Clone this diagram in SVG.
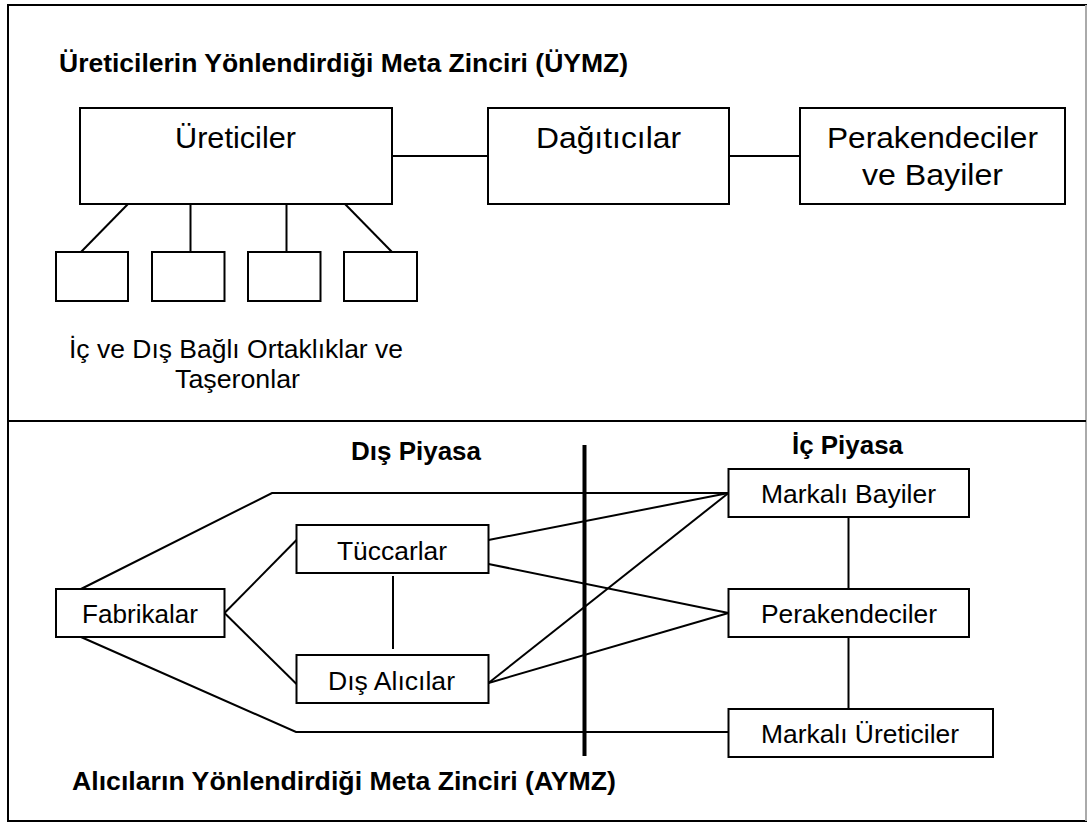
<svg xmlns="http://www.w3.org/2000/svg" width="1088" height="822" viewBox="0 0 1088 822">
<style>
.box{fill:#fff;stroke:#000;stroke-width:2}
.ln{fill:none;stroke:#000;stroke-width:2}
.t{font-family:"Liberation Sans",Arial,sans-serif;fill:#000}
.b{font-weight:bold;font-size:25px}
.big{font-size:29px}
.mid{font-size:25px}
.sm{font-size:25px}
</style>
<rect x="0" y="0" width="1088" height="822" fill="#fff"/>
<g id="frame">
<rect x="8" y="5" width="1078" height="816" fill="none" stroke="#000" stroke-width="2"/>
<line x1="1086" y1="5" x2="1086" y2="821" stroke="#aaa" stroke-width="2"/>
<line x1="8" y1="421" x2="1086" y2="421" stroke="#000" stroke-width="2"/>
</g>
<g id="titles">
<text class="t b" x="59" y="72" textLength="569" lengthAdjust="spacingAndGlyphs">Üreticilerin Yönlendirdiği Meta Zinciri (ÜYMZ)</text>
<text class="t b" x="72" y="790" textLength="544" lengthAdjust="spacingAndGlyphs">Alıcıların Yönlendirdiği Meta Zinciri (AYMZ)</text>
<text class="t b" x="351" y="460" textLength="130" lengthAdjust="spacingAndGlyphs">Dış Piyasa</text>
<text class="t b" x="792" y="454" textLength="111" lengthAdjust="spacingAndGlyphs">İç Piyasa</text>
<text class="t sm" x="69" y="358" textLength="334" lengthAdjust="spacingAndGlyphs">İç ve Dış Bağlı Ortaklıklar ve</text>
<text class="t sm" x="175" y="388" textLength="125" lengthAdjust="spacingAndGlyphs">Taşeronlar</text>
</g>
<g id="connectors">
<line class="ln" x1="392" y1="156" x2="488" y2="156"/>
<line class="ln" x1="729" y1="156" x2="800" y2="156"/>
<line class="ln" x1="128" y1="204" x2="81" y2="252"/>
<line class="ln" x1="190.5" y1="204" x2="190.5" y2="252"/>
<line class="ln" x1="286.5" y1="204" x2="286.5" y2="252"/>
<line class="ln" x1="345" y1="204" x2="392" y2="252"/>
<polyline class="ln" points="81,589 272,493 728,493"/>
<polyline class="ln" points="81,637 296,732 728,732"/>
<line class="ln" x1="224.5" y1="613" x2="296.5" y2="540"/>
<line class="ln" x1="224.5" y1="613" x2="296.5" y2="684"/>
<line class="ln" x1="393" y1="576" x2="393" y2="649"/>
<line class="ln" x1="488.5" y1="540" x2="728.5" y2="493"/>
<line class="ln" x1="488.5" y1="564" x2="728.5" y2="613"/>
<line class="ln" x1="488.5" y1="683" x2="728.5" y2="493"/>
<line class="ln" x1="488.5" y1="683" x2="728.5" y2="613"/>
<line class="ln" x1="848.5" y1="517" x2="848.5" y2="589"/>
<line class="ln" x1="848.5" y1="637" x2="848.5" y2="709"/>
<line x1="584.5" y1="445" x2="584.5" y2="756" stroke="#000" stroke-width="4"/>
</g>
<g id="ureticiler">
<rect class="box" x="80" y="108" width="312" height="96"/>
<text class="t big" x="175" y="148" textLength="121" lengthAdjust="spacingAndGlyphs">Üreticiler</text>
</g>
<g id="dagiticilar">
<rect class="box" x="488" y="108" width="241" height="96"/>
<text class="t big" x="536" y="148" textLength="145" lengthAdjust="spacingAndGlyphs">Dağıtıcılar</text>
</g>
<g id="perakendeciler-bayiler">
<rect class="box" x="800" y="108" width="265" height="96"/>
<text class="t big" x="827" y="148" textLength="211" lengthAdjust="spacingAndGlyphs">Perakendeciler</text>
<text class="t big" x="862" y="185" textLength="141" lengthAdjust="spacingAndGlyphs">ve Bayiler</text>
</g>
<g id="ortak1"><rect class="box" x="56" y="252" width="72" height="49"/></g>
<g id="ortak2"><rect class="box" x="152" y="252" width="72.5" height="49"/></g>
<g id="ortak3"><rect class="box" x="248" y="252" width="72.5" height="49"/></g>
<g id="ortak4"><rect class="box" x="344" y="252" width="73" height="49"/></g>
<g id="fabrikalar">
<rect class="box" x="56" y="589" width="168.5" height="48"/>
<text class="t mid" x="82" y="623" textLength="116" lengthAdjust="spacingAndGlyphs">Fabrikalar</text>
</g>
<g id="tuccarlar">
<rect class="box" x="296.5" y="525" width="192" height="48"/>
<text class="t mid" x="337" y="560" textLength="110" lengthAdjust="spacingAndGlyphs">Tüccarlar</text>
</g>
<g id="dis-alicilar">
<rect class="box" x="296.5" y="655" width="192" height="48"/>
<text class="t mid" x="328" y="690" textLength="127" lengthAdjust="spacingAndGlyphs">Dış Alıcılar</text>
</g>
<g id="markali-bayiler">
<rect class="box" x="728.5" y="469" width="240.5" height="48"/>
<text class="t mid" x="761" y="503" textLength="175" lengthAdjust="spacingAndGlyphs">Markalı Bayiler</text>
</g>
<g id="perakendeciler">
<rect class="box" x="728.5" y="589" width="240.5" height="48"/>
<text class="t mid" x="761" y="623" textLength="176" lengthAdjust="spacingAndGlyphs">Perakendeciler</text>
</g>
<g id="markali-ureticiler">
<rect class="box" x="728.5" y="709" width="264.5" height="48"/>
<text class="t mid" x="761" y="743" textLength="198" lengthAdjust="spacingAndGlyphs">Markalı Üreticiler</text>
</g>
</svg>
